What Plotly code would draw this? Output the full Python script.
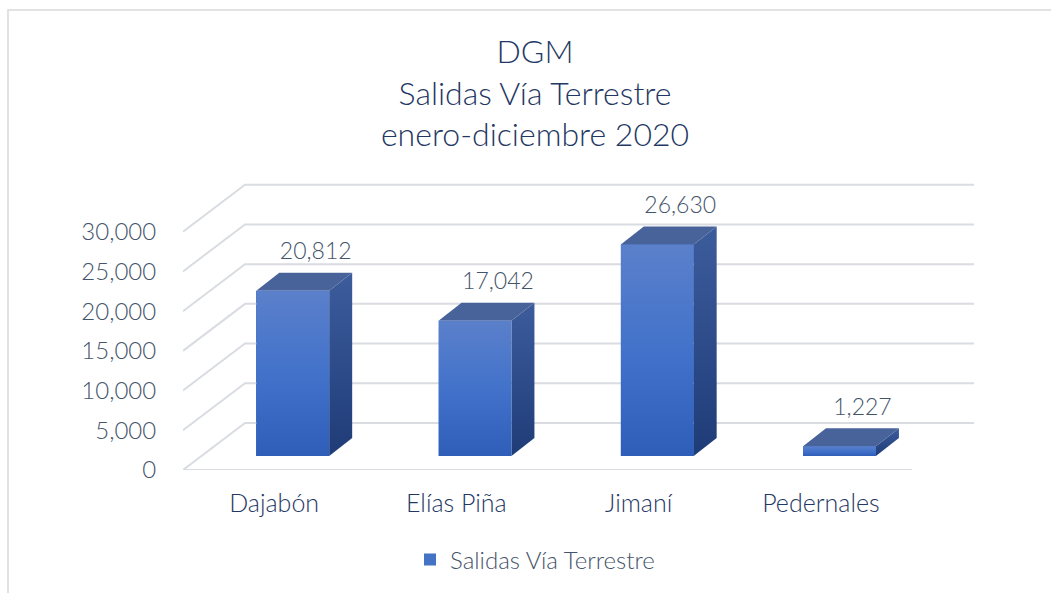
import plotly.graph_objects as go

# ---------------- data ----------------
categories = ["Dajabón", "Elías Piña", "Jimaní", "Pedernales"]
values = [20812, 17042, 26630, 1227]
value_labels = ["20,812", "17,042", "26,630", "1,227"]
y_ticks = [0, 5000, 10000, 15000, 20000, 25000, 30000]
y_tick_labels = ["0", "5,000", "10,000", "15,000", "20,000", "25,000", "30,000"]
series_name = "Salidas Vía Terrestre"
title_lines = ["DGM", "Salidas Vía Terrestre", "enero-diciembre 2020"]

# ---------------- layout geometry ----------------
W, H = 1051, 593
ML, MR, MT, MB = 183, 76, 180, 123
PX_PER_CAT = 182.25
PX_PER_VAL = 238.3 / 30000
plot_w = W - ML - MR
plot_h = H - MT - MB
x_range = [-0.5, -0.5 + plot_w / PX_PER_CAT]
y_range = [0, plot_h / PX_PER_VAL]


def px_x(p):
    return p / PX_PER_CAT


def px_y(p):
    return p / PX_PER_VAL


WALL_DX, WALL_DY = px_x(62), px_y(47)
FACE_DX, FACE_DY = px_x(18.6), px_y(14)
BAR_DX, BAR_DY = px_x(23), px_y(18)
BAR_W = 0.4

FONT = "Lato"
WEIGHT = 300
NAVY = "#1F3864"
GRAY = "#44546A"
GRID = "#D9DCE1"

n = len(categories)
x_lo, x_hi = -0.5, n - 0.5

fig = go.Figure()

# gridlines: back wall + side wall diagonals
gx, gy = [], []
for v in y_ticks:
    gx += [x_lo, x_lo + WALL_DX, x_hi + WALL_DX, None]
    gy += [v, v + WALL_DY, v + WALL_DY, None]
gx += [x_lo, x_hi, None]
gy += [y_ticks[0], y_ticks[0], None]
fig.add_trace(go.Scatter(x=gx, y=gy, mode="lines", line=dict(color=GRID, width=2),
                         hoverinfo="skip", showlegend=False))

# base bar trace (front faces, provides legend)
fig.add_trace(go.Bar(x=[i + FACE_DX for i in range(n)], y=values, base=FACE_DY, width=BAR_W,
                     marker=dict(color="#4472C4", line=dict(width=0)), name=series_name,
                     hoverinfo="skip", showlegend=True))

for i, v in enumerate(values):
    x0 = i - BAR_W / 2 + FACE_DX
    x1 = x0 + BAR_W
    b = FACE_DY
    t = b + v
    # side face
    fig.add_trace(go.Scatter(
        x=[x1, x1 + BAR_DX, x1 + BAR_DX, x1, x1],
        y=[b, b + BAR_DY, t + BAR_DY, t, b],
        mode="lines", line=dict(width=0), fill="toself",
        fillgradient=dict(type="vertical", colorscale=[[0, "#1F3C78"], [1, "#3D5C9C"]]),
        hoverinfo="skip", showlegend=False))
    # top face
    fig.add_trace(go.Scatter(
        x=[x0, x1, x1 + BAR_DX, x0 + BAR_DX, x0],
        y=[t, t, t + BAR_DY, t + BAR_DY, t],
        mode="lines", line=dict(width=0), fill="toself", fillcolor="#48639A",
        hoverinfo="skip", showlegend=False))
    # front face with gradient
    fig.add_trace(go.Scatter(
        x=[x0, x1, x1, x0, x0],
        y=[b, b, t, t, b],
        mode="lines", line=dict(width=0), fill="toself",
        fillgradient=dict(type="vertical", colorscale=[[0, "#2E5EB8"], [0.5, "#4272CA"], [1, "#5B80CB"]]),
        hoverinfo="skip", showlegend=False))

# data labels
fig.add_trace(go.Scatter(
    x=[i + FACE_DX + px_x(23) for i in range(n)],
    y=[FACE_DY + v + BAR_DY + px_y(8) for v in values],
    mode="text", text=value_labels, textposition="top center",
    textfont=dict(family=FONT, size=23, color=GRAY, weight=WEIGHT),
    hoverinfo="skip", showlegend=False, cliponaxis=False))

fig.update_layout(
    width=W, height=H,
    margin=dict(l=ML, r=MR, t=MT, b=MB, pad=0),
    paper_bgcolor="white", plot_bgcolor="white",
    title=dict(text="<br>".join(title_lines), x=535 / W, xref="container", xanchor="center",
               y=1 - 63 / H, yref="container", yanchor="top",
               font=dict(family=FONT, size=32, color=NAVY, weight=WEIGHT)),
    xaxis=dict(range=x_range, tickvals=list(range(n)), ticktext=categories,
               showgrid=False, zeroline=False, showline=False,
               ticks="outside", ticklen=11, tickcolor="rgba(0,0,0,0)",
               tickfont=dict(family=FONT, size=25, color=NAVY, weight=WEIGHT), fixedrange=True),
    yaxis=dict(range=y_range, tickvals=y_ticks, ticktext=y_tick_labels,
               showgrid=False, zeroline=False, showline=False,
               ticks="outside", ticklen=21, tickcolor="rgba(0,0,0,0)",
               tickfont=dict(family=FONT, size=24, color=GRAY, weight=WEIGHT), fixedrange=True),
    showlegend=True,
    legend=dict(orientation="h", xref="container", x=535 / W, xanchor="center",
                yref="container", y=1 - 560 / H, yanchor="middle",
                font=dict(family=FONT, size=24, color=GRAY, weight=WEIGHT), bgcolor="rgba(0,0,0,0)"),
    shapes=[dict(type="rect", xref="paper", yref="paper", layer="below",
                 x0=(8 - ML) / plot_w, x1=2, y0=-2, y1=1 + (MT - 10) / plot_h,
                 line=dict(color="#D9D9D9", width=1.5), fillcolor="rgba(0,0,0,0)")],
    bargap=0,
)

fig.write_html("out.html", include_plotlyjs=True, config={"displayModeBar": False},
               post_script="document.body.style.margin='0';document.body.style.overflow='hidden';")
